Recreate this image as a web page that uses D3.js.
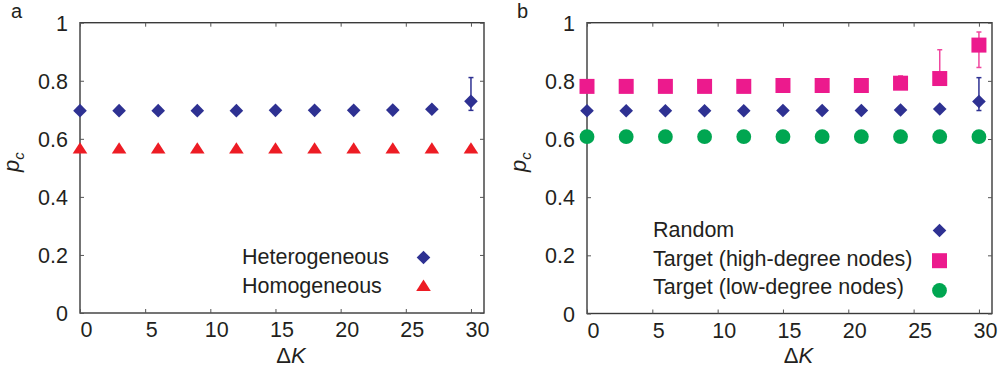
<!DOCTYPE html>
<html>
<head>
<meta charset="utf-8">
<script src="https://cdn.jsdelivr.net/npm/d3@7"></script>
<style>
  html, body { margin: 0; padding: 0; background: #fff; }
  svg { display: block; }
  text { font-family: "Liberation Sans", Arial, Helvetica, sans-serif; fill: #231f20; }
</style>
</head>
<body>
<svg id="chart" width="1002" height="371"></svg>
<script>
// ---------- data ----------
const deltaK = [0, 3, 6, 9, 12, 15, 18, 21, 24, 27, 30];
const xTicks = [0, 5, 10, 15, 20, 25, 30];
const yTicks = [0, 0.2, 0.4, 0.6, 0.8, 1];
const yTickLabels = ["0", "0.2", "0.4", "0.6", "0.8", "1"];

// panel a
const heterogeneous = [0.697, 0.697, 0.697, 0.697, 0.697, 0.698, 0.698, 0.698, 0.699, 0.702, 0.729];
const heteroErrLow  = [null, null, null, null, null, null, null, null, null, null, 0.698];
const heteroErrHigh = [null, null, null, null, null, null, null, null, null, null, 0.811];
const homogeneous   = [0.569, 0.569, 0.569, 0.569, 0.569, 0.569, 0.569, 0.569, 0.569, 0.569, 0.569];

// panel b
const randomAttack = [0.697, 0.697, 0.697, 0.697, 0.697, 0.698, 0.698, 0.698, 0.700, 0.703, 0.729];
const randomErrLow  = [null, null, null, null, null, null, null, null, null, null, 0.698];
const randomErrHigh = [null, null, null, null, null, null, null, null, null, null, 0.811];
const targetHigh    = [0.781, 0.781, 0.781, 0.781, 0.781, 0.784, 0.784, 0.784, 0.792, 0.808, 0.923];
const highErrLow    = [null, null, null, null, null, null, null, null, 0.792, 0.808, 0.846];
const highErrHigh   = [null, null, null, null, null, null, null, null, 0.817, 0.907, 0.968];
const targetLow     = [0.608, 0.608, 0.608, 0.608, 0.608, 0.608, 0.608, 0.608, 0.608, 0.608, 0.608];

const legendA = ["Heterogeneous", "Homogeneous"];
const legendB = ["Random", "Target (high-degree nodes)", "Target (low-degree nodes)"];

// ---------- styles ----------
const BLUE = "#2e3192", RED = "#ed1c24", PINK = "#ec1a8d", GREEN = "#00a651";
const PINK_ERR = "#f0479f";
const FS = 21.5;

const svg = d3.select("#chart");

function panel(cfg) {
  const g = svg.append("g");
  const x = d3.scaleLinear().domain([0, 31]).range([cfg.left, cfg.right]);
  const y = d3.scaleLinear().domain([0, 1]).range([cfg.bottom, cfg.top]);

  // frame
  g.append("rect")
    .attr("x", cfg.left).attr("y", cfg.top)
    .attr("width", cfg.right - cfg.left).attr("height", cfg.bottom - cfg.top)
    .attr("fill", "none").attr("stroke", "#3a3a3a").attr("stroke-width", 1.4);

  const styleAxis = sel => {
    sel.select(".domain").remove();
    sel.selectAll(".tick line").attr("stroke", "#555").attr("stroke-width", 1);
    sel.selectAll(".tick text")
      .style("font-family", '"Liberation Sans", Arial, Helvetica, sans-serif')
      .style("font-size", FS + "px").attr("fill", "#231f20");
  };

  // bottom axis
  g.append("g").attr("transform", `translate(0,${cfg.bottom})`)
    .call(d3.axisBottom(x).tickValues(xTicks).tickSize(-4).tickPadding(9).tickFormat(d3.format("d")))
    .call(styleAxis)
    .call(s => s.selectAll(".tick text").attr("dx", 6));
  // top axis (ticks only)
  g.append("g").attr("transform", `translate(0,${cfg.top})`)
    .call(d3.axisTop(x).tickValues(xTicks).tickSize(-4).tickFormat(""))
    .call(styleAxis);
  // left axis
  g.append("g").attr("transform", `translate(${cfg.left},0)`)
    .call(d3.axisLeft(y).tickValues(yTicks).tickSize(-4).tickPadding(12)
      .tickFormat((d, i) => yTickLabels[i]))
    .call(styleAxis)
    .call(s => s.selectAll(".tick text").attr("dy", "0.35em"));
  // right axis (ticks only)
  g.append("g").attr("transform", `translate(${cfg.right},0)`)
    .call(d3.axisRight(y).tickValues(yTicks).tickSize(-4).tickFormat(""))
    .call(styleAxis);

  // panel letter
  g.append("text").attr("x", cfg.letterX).attr("y", 18)
    .style("font-size", "20px").text(cfg.letter);

  // y label p_c
  const yl = g.append("text")
    .attr("transform", `translate(${cfg.left - 61},162) rotate(-90)`)
    .attr("text-anchor", "middle")
    .style("font-size", "22px").style("font-style", "italic");
  yl.append("tspan").text("p");
  yl.append("tspan").attr("dy", 5).style("font-size", "15px").text("c");

  // x label ΔK
  const xl = g.append("text")
    .attr("x", (cfg.left + cfg.right) / 2 + 9).attr("y", 363)
    .attr("text-anchor", "middle").style("font-size", "22px");
  xl.append("tspan").text("Δ");
  xl.append("tspan").style("font-style", "italic").text("K");

  return { g, x, y };
}

const shapes = {
  diamond: (s) => `M0,${-s}L${s},0L0,${s}L${-s},0Z`,
  square: (s) => `M${-s},${-s}H${s}V${s}H${-s}Z`,
  triangle: (s) => `M0,${-s * 0.78}L${s},${s * 0.78}L${-s},${s * 0.78}Z`
};

function drawSeries(p, vals, opt) {
  const { g, x, y } = p;
  // error bars
  if (opt.lo) {
    const eg = g.append("g");
    deltaK.forEach((k, i) => {
      if (opt.lo[i] == null) return;
      const cx = x(k), y1 = y(opt.lo[i]), y2 = y(opt.hi[i]);
      eg.append("line").attr("x1", cx).attr("x2", cx).attr("y1", y1).attr("y2", y2)
        .attr("stroke", opt.errColor).attr("stroke-width", 1.5);
      [y1, y2].forEach(yy => eg.append("line").attr("x1", cx - 2.5).attr("x2", cx + 2.5)
        .attr("y1", yy).attr("y2", yy).attr("stroke", opt.errColor).attr("stroke-width", 1.5));
    });
  }
  const mg = g.append("g");
  deltaK.forEach((k, i) => drawMarker(mg, opt.shape, x(k), y(vals[i]), opt.size, opt.color));
}

function drawMarker(g, shape, cx, cy, size, color) {
  if (shape === "circle") {
    g.append("circle").attr("cx", cx).attr("cy", cy).attr("r", size).attr("fill", color);
  } else {
    g.append("path").attr("d", shapes[shape](size))
      .attr("transform", `translate(${cx},${cy})`).attr("fill", color);
  }
}

function legend(p, labels, styles, cfg) {
  labels.forEach((lab, i) => {
    const by = cfg.y0 + i * cfg.dy;
    p.g.append("text").attr("x", cfg.textX).attr("y", by)
      .style("font-size", FS + "px").text(lab);
    drawMarker(p.g, styles[i].shape, cfg.markX, by - 6.5 + (styles[i].off || 0), styles[i].size, styles[i].color);
  });
}

// ---------- panel a ----------
const pa = panel({ left: 80, right: 484, top: 22.7, bottom: 313, letter: "a", letterX: 11 });
drawSeries(pa, heterogeneous, { shape: "diamond", size: 6.8, color: BLUE, lo: heteroErrLow, hi: heteroErrHigh, errColor: BLUE });
drawSeries(pa, homogeneous, { shape: "triangle", size: 7.3, color: RED });
legend(pa, legendA, [
  { shape: "diamond", size: 6.8, color: BLUE },
  { shape: "triangle", size: 7.3, color: RED, off: -1 }
], { textX: 242, markX: 423.5, y0: 264, dy: 28.7 });

// ---------- panel b ----------
const pb = panel({ left: 587, right: 992, top: 22.7, bottom: 313.5, letter: "b", letterX: 517 });
drawSeries(pb, targetLow, { shape: "circle", size: 7.4, color: GREEN });
drawSeries(pb, randomAttack, { shape: "diamond", size: 6.8, color: BLUE, lo: randomErrLow, hi: randomErrHigh, errColor: BLUE });
drawSeries(pb, targetHigh, { shape: "square", size: 7.5, color: PINK, lo: highErrLow, hi: highErrHigh, errColor: PINK_ERR });
legend(pb, legendB, [
  { shape: "diamond", size: 6.8, color: BLUE },
  { shape: "square", size: 7.5, color: PINK, off: 1.5 },
  { shape: "circle", size: 7.4, color: GREEN, off: 2.5 }
], { textX: 653, markX: 939.5, y0: 237, dy: 28.7 });
</script>
</body>
</html>
